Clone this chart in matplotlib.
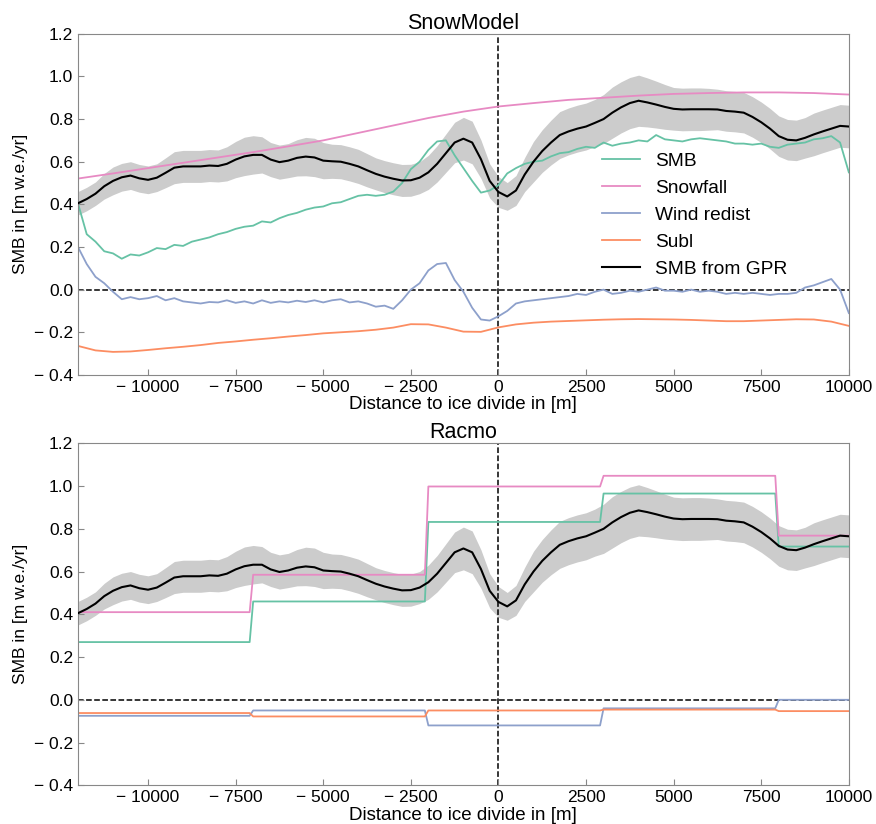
import numpy as np
import matplotlib
matplotlib.use("Agg")
import matplotlib.pyplot as plt
from matplotlib.ticker import FuncFormatter

plt.rcParams['font.family'] = ['Liberation Sans', 'DejaVu Sans']

# distance to ice divide [m]
x250 = np.arange(-12000, 10001, 250)
x500 = np.arange(-12000, 10001, 500)
x1000 = np.arange(-12000, 10001, 1000)

# SMB from GPR (same in both panels) and its uncertainty half-width
gpr = [0.405, 0.425, 0.45, 0.485, 0.51, 0.527, 0.535, 0.522,
       0.515, 0.525, 0.548, 0.572, 0.578, 0.578, 0.578, 0.582,
       0.58, 0.59, 0.61, 0.625, 0.632, 0.632, 0.61, 0.598,
       0.605, 0.618, 0.624, 0.62, 0.605, 0.602, 0.60, 0.59,
       0.578, 0.56, 0.543, 0.53, 0.52, 0.512, 0.513, 0.525,
       0.55, 0.59, 0.64, 0.69, 0.708, 0.69, 0.612, 0.51,
       0.458, 0.437, 0.465, 0.54, 0.60, 0.65, 0.69, 0.725,
       0.742, 0.755, 0.765, 0.782, 0.80, 0.83, 0.855, 0.875,
       0.886, 0.878, 0.868, 0.857, 0.848, 0.845, 0.846, 0.846,
       0.846, 0.845, 0.838, 0.835, 0.83, 0.81, 0.785, 0.755,
       0.72, 0.703, 0.70, 0.712, 0.728, 0.742, 0.755, 0.768,
       0.765]
gpr_err = [0.055, 0.055, 0.055, 0.06, 0.065, 0.065, 0.065, 0.065,
           0.065, 0.065, 0.07, 0.075, 0.075, 0.075, 0.075, 0.075,
           0.075, 0.08, 0.085, 0.09, 0.09, 0.085, 0.08, 0.08,
           0.08, 0.085, 0.09, 0.09, 0.085, 0.08, 0.08, 0.08,
           0.08, 0.078, 0.075, 0.075, 0.075, 0.075, 0.075, 0.075,
           0.08, 0.085, 0.09, 0.095, 0.1, 0.1, 0.09, 0.08,
           0.072, 0.065, 0.07, 0.08, 0.095, 0.1, 0.105, 0.11,
           0.11, 0.11, 0.11, 0.11, 0.115, 0.12, 0.12, 0.12,
           0.12, 0.115, 0.11, 0.105, 0.1, 0.1, 0.1, 0.1,
           0.098, 0.095, 0.095, 0.095, 0.095, 0.095, 0.095, 0.095,
           0.095, 0.095, 0.095, 0.095, 0.1, 0.1, 0.1, 0.1,
           0.1]

# SnowModel components
sm_smb = [0.405, 0.26, 0.225, 0.18, 0.17, 0.145, 0.165, 0.16,
          0.175, 0.195, 0.19, 0.21, 0.205, 0.225, 0.235, 0.245,
          0.26, 0.27, 0.285, 0.295, 0.30, 0.32, 0.315, 0.335,
          0.35, 0.36, 0.375, 0.385, 0.39, 0.405, 0.41, 0.425,
          0.44, 0.445, 0.44, 0.445, 0.46, 0.50, 0.565, 0.60,
          0.655, 0.695, 0.70, 0.63, 0.57, 0.51, 0.455, 0.465,
          0.49, 0.545, 0.57, 0.59, 0.60, 0.605, 0.625, 0.64,
          0.645, 0.66, 0.67, 0.665, 0.69, 0.675, 0.685, 0.69,
          0.70, 0.695, 0.725, 0.705, 0.70, 0.695, 0.705, 0.71,
          0.705, 0.70, 0.695, 0.685, 0.685, 0.68, 0.685, 0.67,
          0.665, 0.68, 0.685, 0.69, 0.705, 0.71, 0.72, 0.69,
          0.55]
sm_snow = [0.521, 0.545, 0.57, 0.595, 0.62, 0.645, 0.672, 0.70,
           0.735, 0.77, 0.805, 0.835, 0.859, 0.875, 0.89, 0.90,
           0.91, 0.918, 0.922, 0.925, 0.925, 0.922, 0.915]
sm_wind = [0.20, 0.12, 0.06, 0.03, -0.01, -0.045, -0.035, -0.045,
           -0.04, -0.03, -0.05, -0.04, -0.055, -0.06, -0.065, -0.058,
           -0.06, -0.05, -0.062, -0.055, -0.065, -0.05, -0.062, -0.055,
           -0.06, -0.052, -0.058, -0.05, -0.06, -0.05, -0.045, -0.06,
           -0.055, -0.065, -0.08, -0.075, -0.09, -0.05, 0.0, 0.03,
           0.09, 0.12, 0.125, 0.045, -0.01, -0.085, -0.14, -0.145,
           -0.125, -0.1, -0.065, -0.055, -0.05, -0.045, -0.04, -0.035,
           -0.03, -0.02, -0.025, -0.01, 0.0, -0.02, -0.015, -0.005,
           -0.01, 0.0, 0.01, -0.005, -0.005, -0.01, 0.0, -0.01,
           -0.005, -0.01, -0.02, -0.015, -0.02, -0.015, -0.02, -0.025,
           -0.02, -0.02, -0.015, 0.01, 0.02, 0.035, 0.05, 0.0,
           -0.11]
sm_subl = [-0.264, -0.285, -0.292, -0.29, -0.283, -0.275, -0.268, -0.26,
           -0.25, -0.243, -0.235, -0.228, -0.22, -0.213, -0.205, -0.2,
           -0.195, -0.188, -0.178, -0.162, -0.163, -0.178, -0.197, -0.198,
           -0.177, -0.163, -0.155, -0.15, -0.147, -0.144, -0.141, -0.139,
           -0.138, -0.139, -0.14, -0.142, -0.145, -0.148, -0.148, -0.145,
           -0.142, -0.139, -0.14, -0.15, -0.17]

# Racmo components (grid cell steps)
rc_x = [-12000, -7100, -7000, -2100, -2000, 2900, 3000, 7900, 8000, 10000]
rc_smb = [0.27, 0.27, 0.46, 0.46, 0.832, 0.832, 0.965, 0.965, 0.717, 0.717]
rc_snow = [0.41, 0.41, 0.585, 0.585, 0.998, 0.998, 1.048, 1.048, 0.768, 0.768]
rc_wind = [-0.075, -0.075, -0.05, -0.05, -0.12, -0.12, -0.04, -0.04, 0.0, 0.0]
rc_subl = [-0.062, -0.062, -0.078, -0.078, -0.05, -0.05, -0.046, -0.046, -0.053, -0.053]

c_smb, c_snow, c_wind, c_subl = '#66c2a5', '#e78ac3', '#8da0cb', '#fc8d62'

fig = plt.figure(figsize=(8.76, 8.24), dpi=100)
ax1 = fig.add_axes([0.089, 0.545, 0.880, 0.414])
ax2 = fig.add_axes([0.089, 0.047, 0.880, 0.415])

gpr = np.array(gpr)
gpr_err = np.array(gpr_err)


def minus_fmt(v, pos, nd):
    s = f'{abs(v):.{nd}f}'
    return '\u2212 ' + s if v < -1e-9 else s


for ax in (ax1, ax2):
    ax.fill_between(x250, gpr - gpr_err, gpr + gpr_err, color='#cccccc', lw=0, zorder=1)
    ax.axhline(0, color='k', ls='--', lw=1.1, zorder=1.5)
    ax.axvline(0, color='k', ls='--', lw=1.1, zorder=1.5)
    ax.set_xlim(-12000, 10000)
    ax.set_ylim(-0.4, 1.2)
    ax.set_xticks(np.arange(-10000, 10001, 2500))
    ax.set_yticks(np.arange(-0.4, 1.21, 0.2))
    ax.xaxis.set_major_formatter(FuncFormatter(lambda v, p: minus_fmt(v, p, 0)))
    ax.yaxis.set_major_formatter(FuncFormatter(lambda v, p: minus_fmt(v, p, 1)))
    ax.tick_params(direction='in', length=4, color='#888888', labelsize=12.5)
    for sp in ax.spines.values():
        sp.set_color('#888888')
    ax.set_xlabel('Distance to ice divide in [m]', fontsize=13.5, labelpad=1)
    ax.set_ylabel('SMB in [m w.e./yr]', fontsize=12.5, labelpad=4)

ax1.plot(x250, sm_smb, color=c_smb, lw=1.3, label='SMB', zorder=2)
ax1.plot(x1000, sm_snow, color=c_snow, lw=1.3, label='Snowfall', zorder=2)
ax1.plot(x250, sm_wind, color=c_wind, lw=1.3, label='Wind redist', zorder=2)
ax1.plot(x500, sm_subl, color=c_subl, lw=1.3, label='Subl', zorder=2)
ax1.plot(x250, gpr, color='k', lw=1.5, label='SMB from GPR', zorder=3)
ax1.set_title('SnowModel', fontsize=15.5, pad=3)
ax1.legend(loc='center', bbox_to_anchor=(0.80, 0.469), frameon=False, fontsize=13.8)

ax2.plot(rc_x, rc_smb, color=c_smb, lw=1.3, zorder=2)
ax2.plot(rc_x, rc_snow, color=c_snow, lw=1.3, zorder=2)
ax2.plot(rc_x, rc_wind, color=c_wind, lw=1.3, zorder=2)
ax2.plot(rc_x, rc_subl, color=c_subl, lw=1.3, zorder=2)
ax2.plot(x250, gpr, color='k', lw=1.5, zorder=3)
ax2.set_title('Racmo', fontsize=15.5, pad=3)

fig.savefig('out.png', dpi=100)
